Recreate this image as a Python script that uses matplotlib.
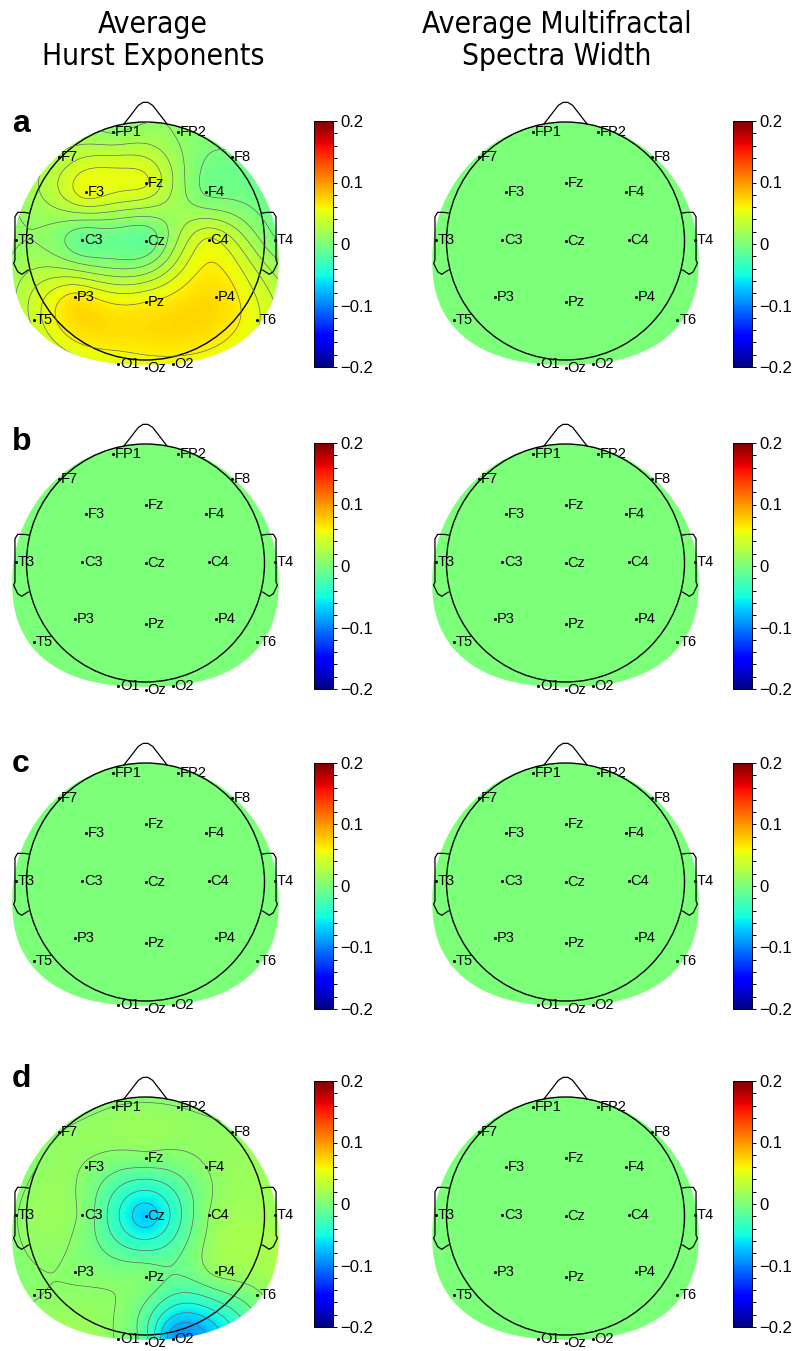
import numpy as np
import matplotlib
matplotlib.use("Agg")
import matplotlib.pyplot as plt
from matplotlib.patches import Polygon, Circle
from matplotlib.cm import ScalarMappable
from matplotlib.colors import Normalize
from matplotlib.ticker import FixedLocator
from matplotlib import font_manager

plt.rcParams['font.family'] = ['Liberation Sans', 'DejaVu Sans']

# 10-20 electrodes, positions in head units (head radius = 1, nose up)
channels = ["FP1", "FP2", "F7", "F3", "Fz", "F4", "F8", "T3", "C3", "Cz",
            "C4", "T4", "T5", "P3", "Pz", "P4", "T6", "O1", "Oz", "O2"]
chan_x = [-0.27, 0.27, -0.73, -0.50, 0.00, 0.51, 0.73, -1.09, -0.53, 0.00,
          0.53, 1.09, -0.94, -0.59, 0.00, 0.59, 0.94, -0.23, 0.00, 0.23]
chan_y = [0.92, 0.92, 0.71, 0.41, 0.49, 0.41, 0.71, 0.01, 0.01, 0.00,
          0.01, 0.01, -0.66, -0.47, -0.51, -0.47, -0.66, -1.03, -1.07, -1.03]

# values per channel (same order as channels)
hurst_a = [0.010, 0.010, 0.025, 0.055, 0.050, -0.003, -0.003, 0.010, -0.012, -0.012,
           0.050, 0.000, 0.040, 0.065, 0.060, 0.070, 0.050, 0.050, 0.050, 0.055]
hurst_b = [0.0] * 20
hurst_c = [0.0] * 20
hurst_d = [0.008, 0.008, 0.007, 0.006, 0.003, 0.008, 0.010, 0.007, 0.004, -0.070,
           0.008, 0.018, 0.007, 0.006, 0.002, 0.012, 0.005, 0.006, -0.020, -0.090]
mfw_a = [0.0] * 20
mfw_b = [0.0] * 20
mfw_c = [0.0] * 20
mfw_d = [0.0] * 20

row_letters = ["a", "b", "c", "d"]
col_titles = ["Average\nHurst Exponents", "Average Multifractal\nSpectra Width"]
cbar_ticks = [-0.2, -0.1, 0, 0.1, 0.2]
cbar_labels = ["\u22120.2", "\u22120.1", "0", "0.1", "0.2"]

W, H = 795, 1351
R = 119.0
head_cx = [145.5, 565.5]
head_cy = [241, 563, 882, 1216]
cbar_x = [314, 733]
cbar_top = [121, 443, 763, 1081]
letter_base = [132, 450, 772, 1087]

fig = plt.figure(figsize=(W / 100, H / 100), dpi=100)
norm = Normalize(-0.2, 0.2)


def px_axes(left, top, width, height):
    return fig.add_axes([left / W, 1 - (top + height) / H, width / W, height / H])


def green(r):
    with np.errstate(divide='ignore', invalid='ignore'):
        g = r ** 2 * (np.log(r) - 1)
    g[r == 0] = 0
    return g


def v4_interp(vals, gx, gy):
    px = np.array(chan_x)
    py = np.array(chan_y)
    d = np.hypot(px[:, None] - px[None, :], py[:, None] - py[None, :])
    w = np.linalg.solve(green(d), np.array(vals, dtype=float))
    dg = np.hypot(gx[..., None] - px, gy[..., None] - py)
    return green(dg) @ w


def region_outline():
    # area covered by the interpolated map (a bit wider than the head)
    y0 = -0.15
    a = 1.12
    t = np.linspace(0, np.pi, 120)
    top = np.column_stack([a * np.cos(t), y0 + (1.0 - y0) * np.sin(t)])
    n = 2.4
    t2 = np.linspace(np.pi, 2 * np.pi, 120)
    c, s = np.cos(t2), np.sin(t2)
    bot = np.column_stack([a * np.sign(c) * np.abs(c) ** (2 / n),
                           y0 + (1.04 + y0) * np.sign(s) * np.abs(s) ** (2 / n)])
    return np.vstack([top, bot])


ear_x = [0.985, 1.013, 1.074, 1.097, 1.097, 1.108, 1.074, 1.040, 0.985]
ear_y = [0.235, 0.240, 0.241, 0.204, -0.160, -0.187, -0.258, -0.280, -0.244]
nose_x = [-0.18, -0.06, -0.02, 0.02, 0.06, 0.18]
nose_y = [0.985, 1.14, 1.165, 1.165, 1.14, 0.985]


def topomap(ax, vals):
    gx, gy = np.meshgrid(np.linspace(-1.2, 1.2, 241), np.linspace(-1.2, 1.2, 241))
    z = v4_interp(vals, gx, gy)
    patch = Polygon(region_outline(), closed=True, facecolor='none',
                    edgecolor='none', transform=ax.transData)
    im = ax.imshow(z, extent=[-1.2, 1.2, -1.2, 1.2], origin='lower', cmap='jet',
                   norm=norm, interpolation='bilinear')
    im.set_clip_path(patch)
    if np.ptp(vals) > 0:
        inside = patch.get_path().contains_points(np.column_stack([gx.ravel(), gy.ravel()]))
        zin = z.ravel()[inside]
        levels = np.linspace(zin.min(), zin.max(), 8)[1:-1]
        cs = ax.contour(gx, gy, z, levels=levels, colors='0.4',
                        linewidths=0.5, linestyles='solid')
        cs.set_clip_path(patch)
    ax.add_patch(Circle((0, 0), 1.0, fill=False, lw=1.0, color='k'))
    ax.plot(ear_x, ear_y, color='k', lw=0.9)
    ax.plot([-v for v in ear_x], ear_y, color='k', lw=0.9)
    ax.plot(nose_x, nose_y, color='k', lw=0.9)
    ax.plot(chan_x, chan_y, 'o', color='k', ms=2.2, mec='none')
    for name, x, y in zip(channels, chan_x, chan_y):
        ax.text(x + 0.015, y, name, fontsize=10.5, ha='left', va='center')
    ax.set_xlim(-1.3, 1.3)
    ax.set_ylim(-1.3, 1.3)
    ax.axis('off')


data = [[hurst_a, mfw_a], [hurst_b, mfw_b], [hurst_c, mfw_c], [hurst_d, mfw_d]]

for r in range(4):
    for c in range(2):
        ax = px_axes(head_cx[c] - 1.3 * R, head_cy[r] - 1.3 * R, 2.6 * R, 2.6 * R)
        topomap(ax, data[r][c])

        cax = px_axes(cbar_x[c], cbar_top[r], 19, 246)
        cb = fig.colorbar(ScalarMappable(norm=norm, cmap='jet'), cax=cax)
        cb.set_ticks(cbar_ticks)
        cb.set_ticklabels(cbar_labels)
        cb.ax.yaxis.set_minor_locator(FixedLocator(np.arange(-0.2, 0.201, 0.02)))
        cb.ax.tick_params(which='both', length=3, width=0.7, direction='out', labelsize=12, pad=2)
        cb.outline.set_linewidth(0.7)

    fig.text(12 / W, 1 - letter_base[r] / H, row_letters[r], fontsize=23,
             fontweight='bold', va='baseline', ha='left')

# narrow title font if one is available
title_kw = dict(family='DejaVu Sans', stretch='condensed', fontsize=21.5)
found = font_manager.findfont(font_manager.FontProperties(family='DejaVu Sans', stretch='condensed'))
if 'Condensed' not in found:
    title_kw = dict(family='DejaVu Sans', fontsize=19.5)

for c, title in enumerate(col_titles):
    l1, l2 = title.split("\n")
    fig.text((153 + 404 * c) / W, 1 - 33 / H, l1, ha='center', va='baseline', **title_kw)
    fig.text((153 + 404 * c) / W, 1 - 65 / H, l2, ha='center', va='baseline', **title_kw)

fig.savefig("out.png", dpi=100)
